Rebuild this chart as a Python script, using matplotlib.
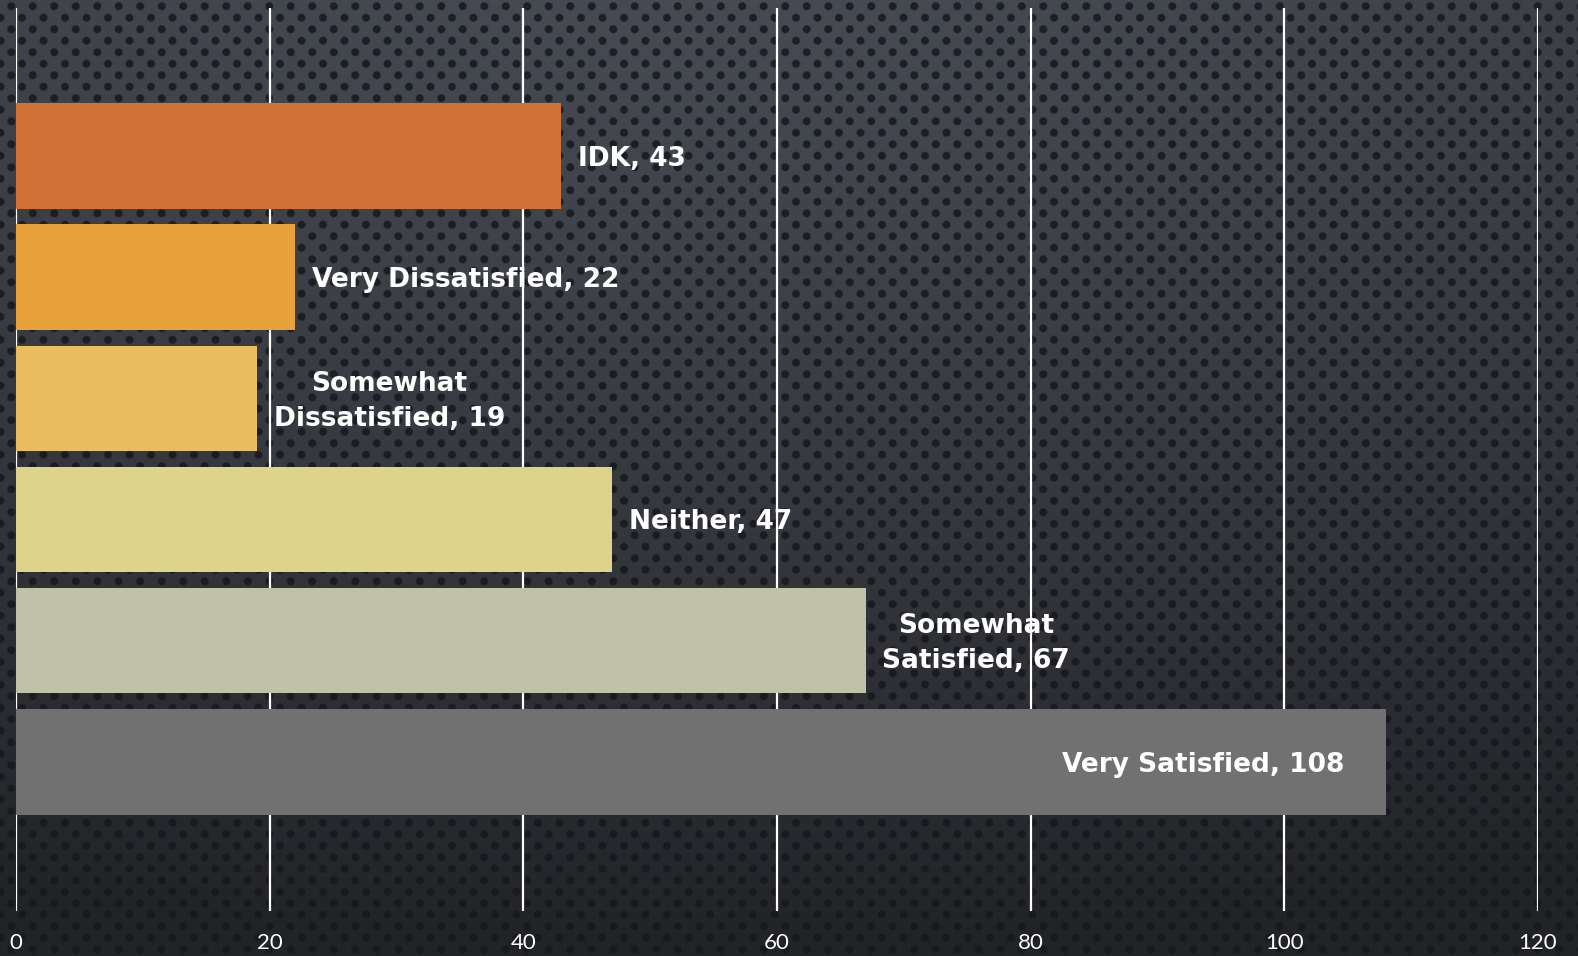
import matplotlib
matplotlib.use("Agg")
import matplotlib.pyplot as plt
import numpy as np

categories = ["Very Satisfied", "Somewhat\nSatisfied", "Neither",
              "Somewhat\nDissatisfied", "Very Dissatisfied", "IDK"]
counts = [108, 67, 47, 19, 22, 43]
colors = ["#717171", "#C0C2A7", "#DDD389", "#E8BE5E", "#E9A23B", "#D07235"]
x_ticks = [0, 20, 40, 60, 80, 100, 120]

W, H, DPI = 1578, 956, 100


def textured_background(w, h):
    # dark perforated metal look: radial gradient + hex grid of dots
    yy, xx = np.mgrid[0:h, 0:w].astype(float)
    d = np.sqrt(((xx - w * 0.45) / w) ** 2 * 0.7 + ((yy + h * 0.1) / h) ** 2 * 1.2)
    t = np.clip(d / 1.2, 0, 1) ** 1.3
    top = np.array([0x48, 0x4c, 0x54]) / 255
    bot = np.array([0x22, 0x23, 0x27]) / 255
    base = top[None, None, :] * (1 - t[..., None]) + bot[None, None, :] * t[..., None]
    sx, sy = 21.5, 11.5
    row = np.floor(yy / sy)
    cy = (row + 0.5) * sy
    off = (row % 2) * sx / 2
    cx = np.floor((xx - off) / sx) * sx + off + sx / 2
    r = np.sqrt((xx - cx) ** 2 + (yy - cy) ** 2)
    dot = np.clip(1 - (r - 3.2) / 1.5, 0, 1)
    dark = np.array([0x16, 0x18, 0x1d]) / 255
    img = base * (1 - 0.85 * dot[..., None]) + dark[None, None, :] * 0.85 * dot[..., None]
    return img


fig = plt.figure(figsize=(W / DPI, H / DPI), dpi=DPI)
fig.figimage(textured_background(W, H)[::-1], xo=0, yo=0, zorder=-10, origin="lower")

left, right, top, bottom = 16, 1538, 8, 911
ax = fig.add_axes([left / W, 1 - bottom / H, (right - left) / W, (bottom - top) / H])
ax.set_zorder(1)
ax.patch.set_alpha(0)
for s in ax.spines.values():
    s.set_visible(False)

y = np.arange(len(categories))
ax.barh(y, counts, height=0.87, color=colors, zorder=3)
ax.set_xlim(0, 120)
ax.set_ylim(-1.23, 6.22)
ax.set_xticks(x_ticks)
ax.set_xticklabels([str(v) for v in x_ticks])
ax.set_yticks([])
ax.tick_params(axis="x", length=0, pad=16, labelsize=16, labelcolor="white")
for lab in ax.get_xticklabels():
    lab.set_fontfamily("Lato")
ax.grid(axis="x", color="white", linewidth=1.6, zorder=1)
ax.set_axisbelow(True)

label_font = dict(color="white", fontsize=19, fontweight="bold",
                  family="DejaVu Sans", zorder=5)
for i, (cat, val) in enumerate(zip(categories, counts)):
    label = f"{cat}, {val}"
    if val == max(counts):
        ax.annotate(label, (val, i), xytext=(-30, -2), textcoords="offset points",
                    ha="right", va="center", **label_font)
    else:
        ax.annotate(label, (val, i), xytext=(12, -2), textcoords="offset points",
                    ha="left", va="center", multialignment="center",
                    linespacing=1.45, **label_font)

fig.savefig("out.png", dpi=DPI)
